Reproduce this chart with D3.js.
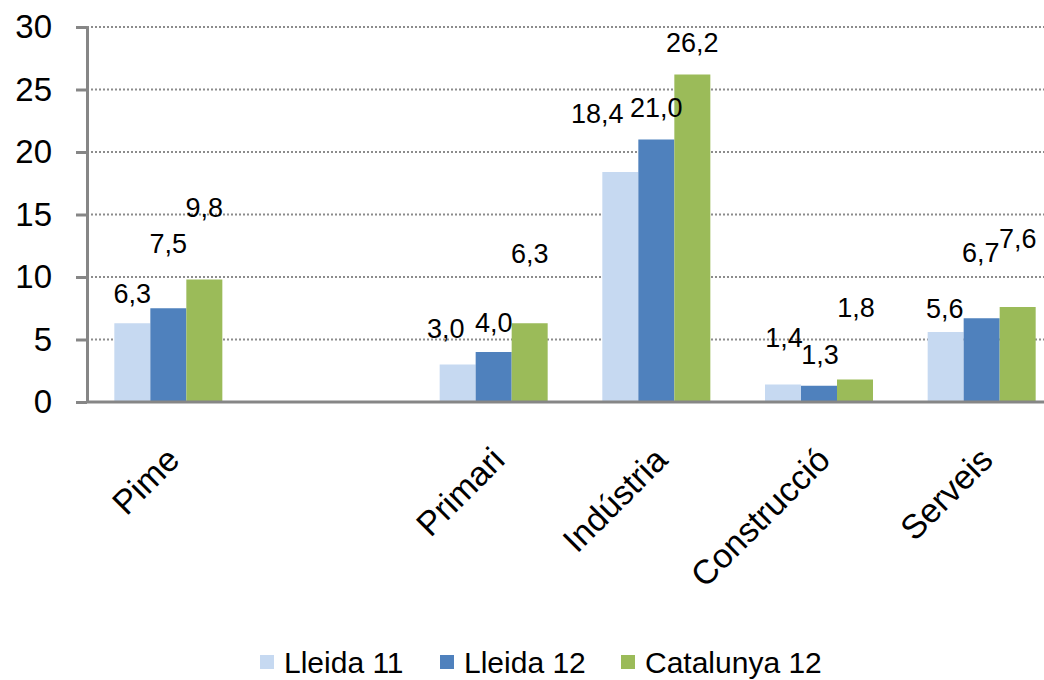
<!DOCTYPE html>
<html>
<head>
<meta charset="utf-8">
<script src="https://cdn.jsdelivr.net/npm/d3@7"></script>
<style>
  body { margin: 0; background: #fff; }
  text { font-family: "Liberation Sans", Arial, sans-serif; fill: #000; }
</style>
</head>
<body>
<svg id="chart" width="1044" height="680"></svg>
<script>
// dades
const categories = ["Pime", "", "Primari", "Indústria", "Construcció", "Serveis"];
const seriesNames = ["Lleida 11", "Lleida 12", "Catalunya 12"];
const lleida11 = [6.3, null, 3.0, 18.4, 1.4, 5.6];
const lleida12 = [7.5, null, 4.0, 21.0, 1.3, 6.7];
const catalunya12 = [9.8, null, 6.3, 26.2, 1.8, 7.6];
const yTicks = [0, 5, 10, 15, 20, 25, 30];

// posició manual de les etiquetes (px sobre la barra, desplaçament x)
const labelLift = [
  [30, 0, 36, 59, 47, 24],
  [65, 0, 30, 32, 31, 66],
  [72, 0, 70, 32, 72, 69]
];
const labelShift = [
  [0, 0, -12, -23, 1, -1],
  [0, 0, 0, 0, 1, -1],
  [0, 0, 0, 0, 1, 0]
];
const colors = ["#c6d9f1", "#4f81bd", "#9bbb59"];

const values = [lleida11, lleida12, catalunya12];
const svg = d3.select("#chart");

const x0 = d3.scaleBand()
  .domain(d3.range(categories.length))
  .range([87, 1063])
  .paddingInner(0.336)
  .paddingOuter(0.168);

const x1 = d3.scaleBand()
  .domain(d3.range(seriesNames.length))
  .range([0, x0.bandwidth()]);

const y = d3.scaleLinear().domain([0, 30]).range([402, 27]);

// línies de graella
svg.append("g")
  .selectAll("line")
  .data(yTicks.filter(d => d > 0))
  .join("line")
  .attr("x1", 87).attr("x2", 1044)
  .attr("y1", d => y(d)).attr("y2", d => y(d))
  .attr("stroke", "#8c8c8c")
  .attr("stroke-width", 2)
  .attr("stroke-dasharray", "2,2");

const points = values.flatMap((s, si) =>
  s.map((v, ci) => ({ v, ci, si })).filter(d => d.v != null));

// barres
svg.append("g")
  .selectAll("rect")
  .data(points)
  .join("rect")
  .attr("x", d => x0(d.ci) + x1(d.si))
  .attr("width", x1.bandwidth())
  .attr("y", d => y(d.v))
  .attr("height", d => y(0) - y(d.v))
  .attr("fill", d => colors[d.si]);

// etiquetes de dades (per sobre de totes les barres)
svg.append("g")
  .selectAll("text")
  .data(points)
  .join("text")
  .attr("x", d => x0(d.ci) + x1(d.si) + x1.bandwidth() / 2 + labelShift[d.si][d.ci])
  .attr("y", d => y(d.v) - labelLift[d.si][d.ci])
  .attr("dy", "0.36em")
  .attr("text-anchor", "middle")
  .style("font-size", "27px")
  .text(d => d3.format(".1f")(d.v).replace(".", ","));

// eix Y
const yAxis = svg.append("g")
  .attr("transform", "translate(87,0)")
  .call(d3.axisLeft(y).tickValues(yTicks).tickSize(11).tickPadding(24).tickSizeOuter(0));
yAxis.select(".domain").attr("stroke", "#868686").attr("stroke-width", 3);
yAxis.selectAll(".tick line").attr("stroke", "#868686").attr("stroke-width", 3);
yAxis.selectAll(".tick text")
  .style("font-size", "33px")
  .style("font-family", "Liberation Sans, Arial, sans-serif")
  .attr("fill", "#000");

// eix X
const xAxis = svg.append("g")
  .attr("transform", `translate(0,${y(0)})`)
  .call(d3.axisBottom(x0).tickSize(0).tickFormat(i => categories[i]));
xAxis.select(".domain").attr("stroke", "#868686").attr("stroke-width", 3)
  .attr("d", "M87,0H1044");
xAxis.selectAll(".tick text")
  .style("font-size", "34px")
  .style("font-family", "Liberation Sans, Arial, sans-serif")
  .attr("fill", "#000")
  .attr("text-anchor", "end")
  .attr("y", 0)
  .attr("dy", 0)
  .attr("transform", "translate(13,60) rotate(-45)");

// llegenda
const legendX = [260, 440, 621];
const legend = svg.append("g")
  .selectAll("g")
  .data(seriesNames)
  .join("g")
  .attr("transform", (d, i) => `translate(${legendX[i]},655)`);
legend.append("rect")
  .attr("width", 14).attr("height", 14)
  .attr("fill", (d, i) => colors[i]);
legend.append("text")
  .attr("x", 24).attr("y", 18)
  .style("font-size", "30px")
  .text(d => d);
</script>
</body>
</html>
